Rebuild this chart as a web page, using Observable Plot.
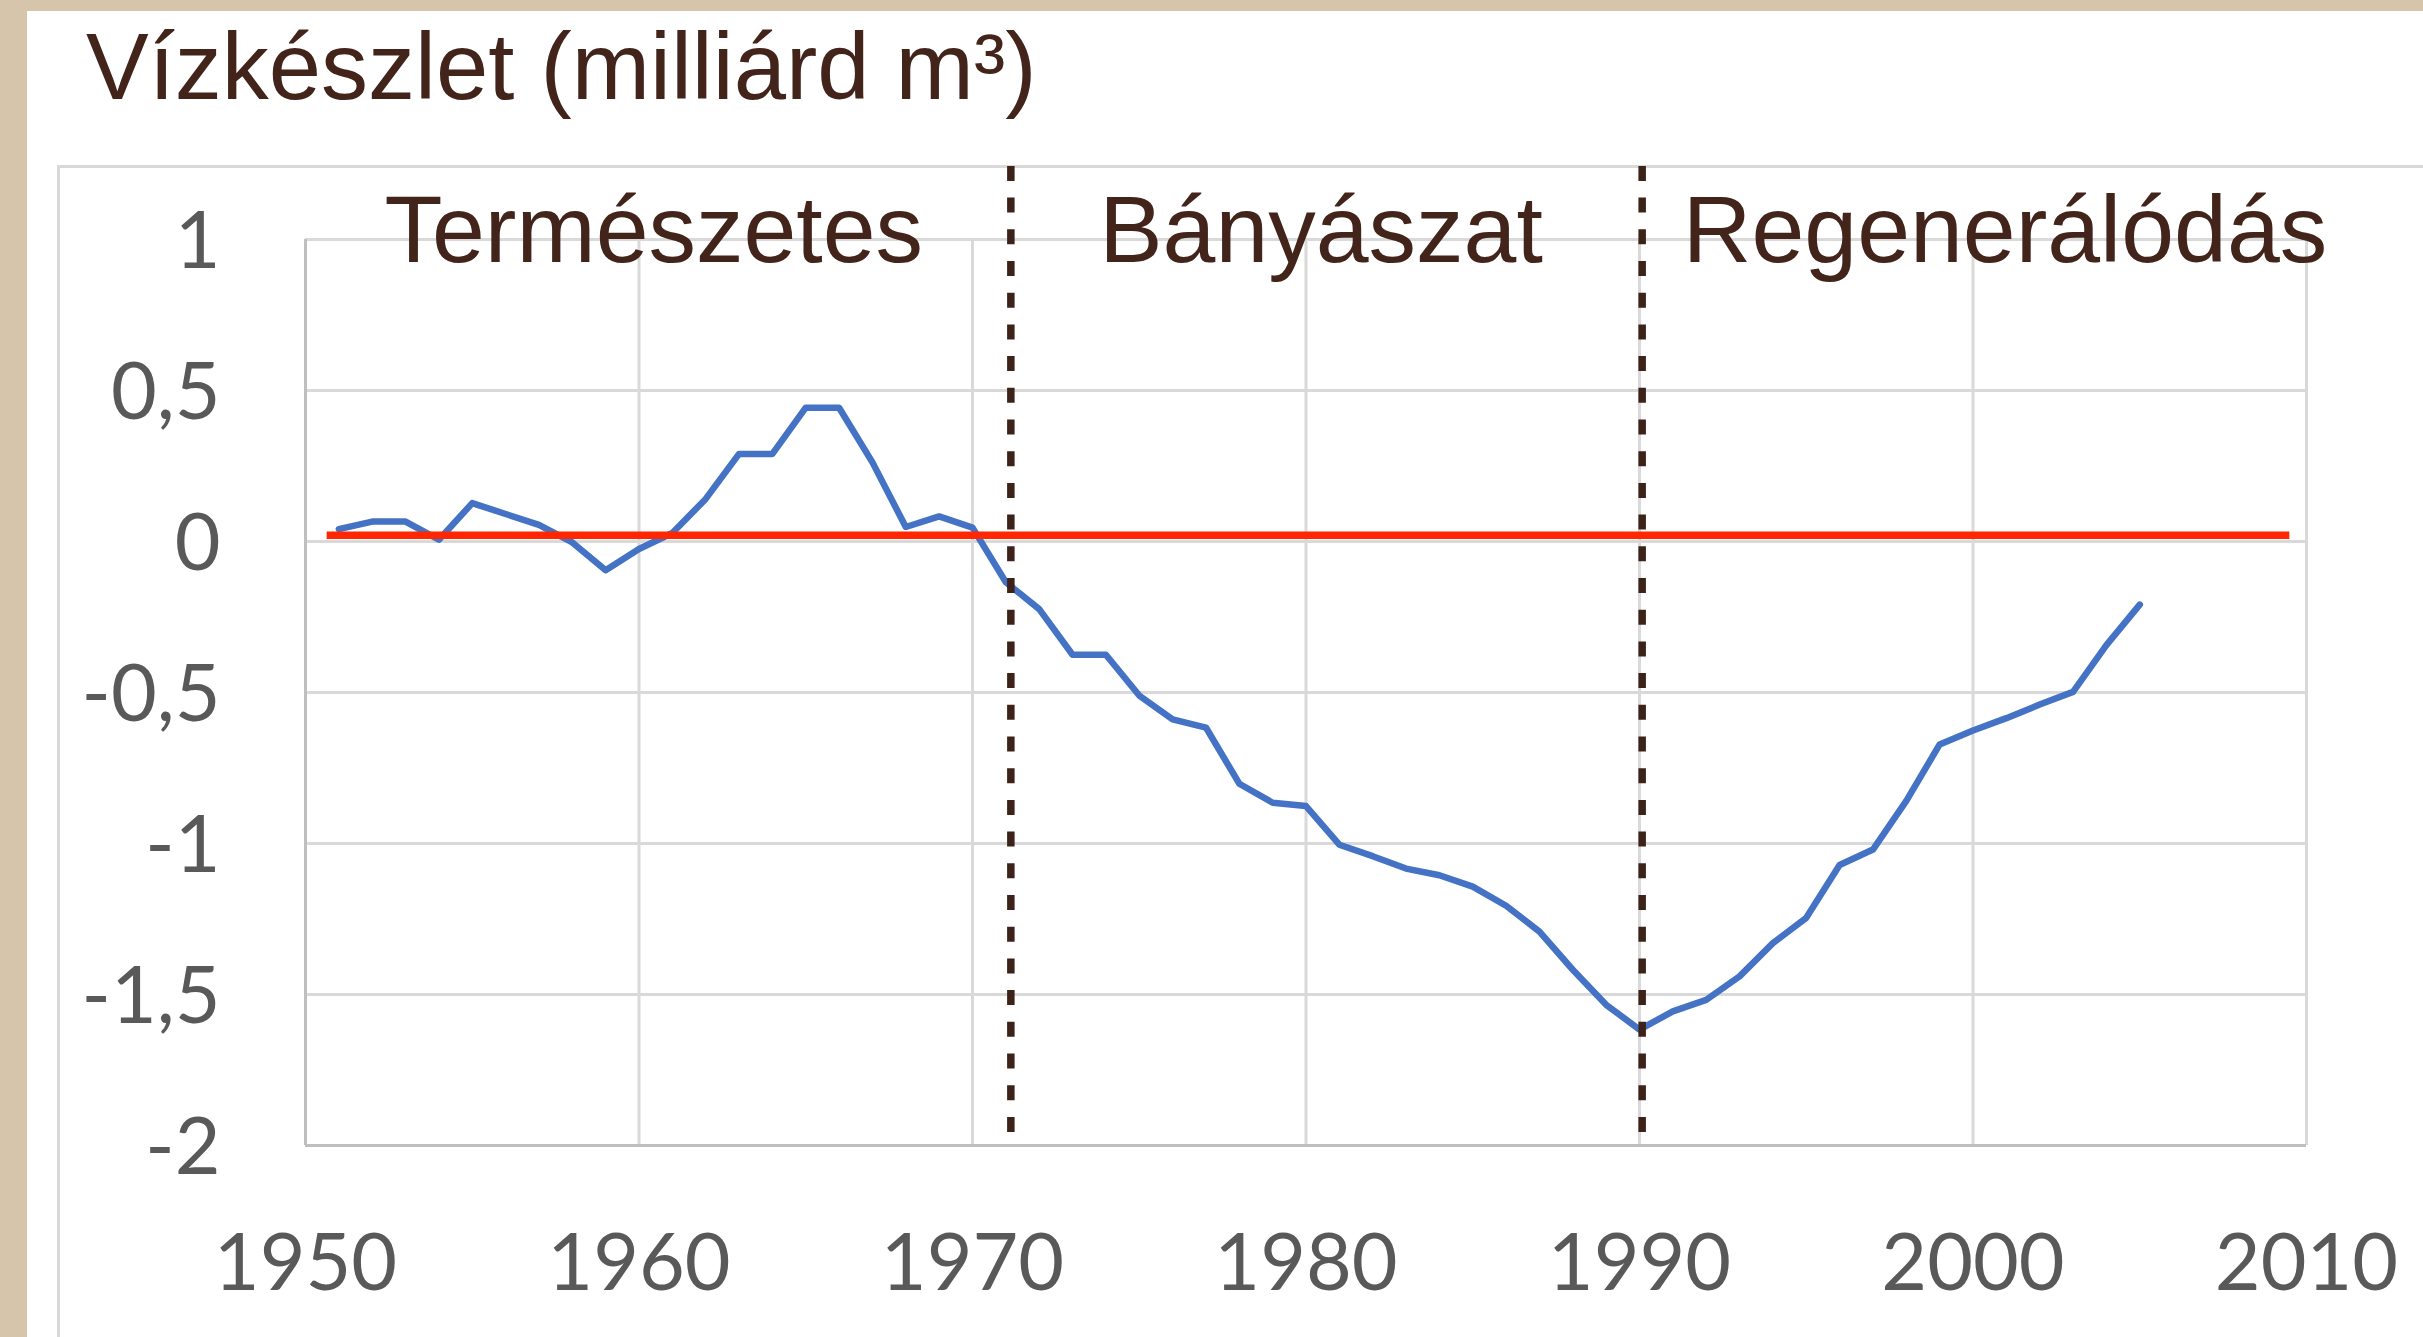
<!DOCTYPE html>
<html>
<head>
<meta charset="utf-8">
<script src="https://cdn.jsdelivr.net/npm/d3@7"></script>
<script src="https://cdn.jsdelivr.net/npm/@observablehq/plot@0.6"></script>
<style>
  html, body { margin: 0; padding: 0; width: 2423px; height: 1337px; overflow: hidden; background: #d6c5aa; }
  #panel { position: absolute; left: 27px; top: 11px; width: 2396px; height: 1326px; background: #ffffff; }
  #frame { position: absolute; left: 57px; top: 165px; width: 3000px; height: 2000px; border: 3px solid #d9d9d9; box-sizing: border-box; }
  #title { position: absolute; left: 86px; top: 20px; font-family: "Liberation Sans", Arial, sans-serif; font-size: 94px; line-height: 94px; color: #42241b; white-space: nowrap; }
  #chart { position: absolute; left: 0; top: 140px; }
</style>
</head>
<body>
<div id="panel"></div>
<div id="frame"></div>
<div id="title">Vízkészlet (milliárd m³)</div>
<div id="chart"></div>
<script>
// Blue series: water resource change (billion m³) by year
const years = [1951,1952,1953,1954,1955,1956,1957,1958,1959,1960,
               1961,1962,1963,1964,1965,1966,1967,1968,1969,1970,
               1971,1972,1973,1974,1975,1976,1977,1978,1979,1980,
               1981,1982,1983,1984,1985,1986,1987,1988,1989,1990,
               1991,1992,1993,1994,1995,1996,1997,1998,1999,2000,
               2001,2002,2003,2004,2005];
const values = [0.041,0.066,0.066,0.006,0.127,0.091,0.055,-0.003,-0.095,-0.025,
                0.028,0.141,0.29,0.29,0.443,0.443,0.262,0.048,0.083,0.046,
                -0.135,-0.224,-0.375,-0.375,-0.51,-0.589,-0.616,-0.802,-0.865,-0.876,
                -1.004,-1.042,-1.083,-1.105,-1.143,-1.206,-1.292,-1.418,-1.534,-1.616,
                -1.556,-1.518,-1.44,-1.33,-1.246,-1.071,-1.02,-0.859,-0.672,-0.626,
                -0.585,-0.54,-0.498,-0.343,-0.209];

// Red reference line
const redLevel = 0.021;
const redStart = 1950.65;
const redEnd = 2009.5;

// Phase boundaries (dashed) and phase labels
const phaseBoundaries = [1971.15, 1990.08];
const dashTop = 1.242;
const phaseLabels = ["Természetes", "Bányászat", "Regenerálódás"];
const phaseLabelX = [1952.37, 1973.8, 1991.3];
const phaseLabelY = 0.924;

// Ticks
const xTicks = [1950, 1960, 1970, 1980, 1990, 2000, 2010];
const xTickLabels = ["1950", "1960", "1970", "1980", "1990", "2000", "2010"];
const yTicks = [-2, -1.5, -1, -0.5, 0, 0.5, 1];
const yTickLabels = ["-2", "-1,5", "-1", "-0,5", "0", "0,5", "1"];

const series = years.map((year, i) => ({year, value: values[i]}));
const xLabel = new Map(xTicks.map((t, i) => [t, xTickLabels[i]]));
const yLabel = new Map(yTicks.map((t, i) => [t, yTickLabels[i]]));

const gridStyle = {stroke: "#d9d9d9", strokeOpacity: 1, strokeWidth: 3};
const axisStyle = {stroke: "#bfbfbf", strokeOpacity: 1, strokeWidth: 3};
const tickText = {fontFamily: "Lato, 'Open Sans', sans-serif", fontSize: 79, fill: "#595959", tickSize: 0, label: null};

const chart = Plot.plot({
  width: 2423,
  height: 1197,
  marginLeft: 305,
  marginRight: 117,
  marginTop: 99,
  marginBottom: 192,
  style: {background: "transparent", overflow: "visible"},
  x: {domain: [1950, 2010]},
  y: {domain: [-2, 1]},
  marks: [
    Plot.gridY(yTicks.filter(t => t !== -2), gridStyle),
    Plot.gridX(xTicks.filter(t => t !== 1950), gridStyle),
    Plot.ruleX([xTicks[0]], axisStyle),
    Plot.ruleY([yTicks[0]], axisStyle),
    Plot.axisX(xTicks, {...tickText, tickPadding: 88, tickFormat: d => xLabel.get(d)}),
    Plot.axisY(yTicks, {...tickText, tickPadding: 85, dy: 3, tickFormat: d => yLabel.get(d)}),
    Plot.line(series, {x: "year", y: "value", stroke: "#4472c4", strokeWidth: 6.5, strokeLinejoin: "round", strokeLinecap: "round"}),
    Plot.ruleY([redLevel], {x1: redStart, x2: redEnd, stroke: "#ff2600", strokeWidth: 7.5}),
    Plot.ruleX(phaseBoundaries, {y1: dashTop, y2: -2, stroke: "#3d2219", strokeWidth: 7.5, strokeDasharray: "15 16.7"}),
    Plot.text(phaseLabels, {
      x: (d, i) => phaseLabelX[i],
      y: () => phaseLabelY,
      text: d => d,
      textAnchor: "start",
      lineAnchor: "bottom",
      fontFamily: "'Liberation Sans', Arial, sans-serif",
      fontSize: 95,
      fill: "#42241b"
    })
  ]
});
document.getElementById("chart").appendChild(chart);
</script>
</body>
</html>
